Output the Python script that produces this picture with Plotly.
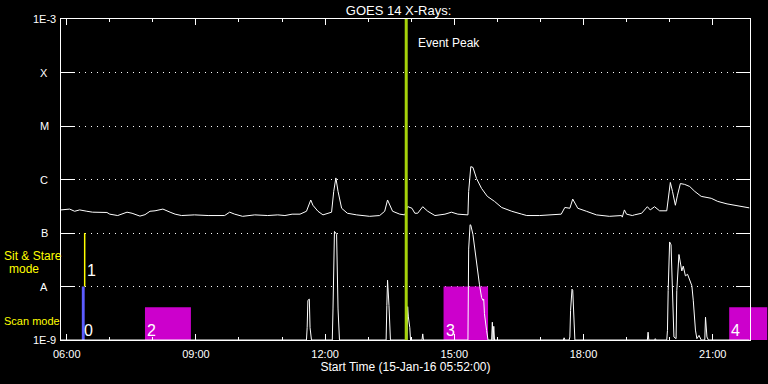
import math
from datetime import datetime
import plotly.graph_objects as go

DAY = '2016-01-15 '

# GOES long channel (upper curve)
long_time = ['05:52', '06:04', '06:11', '06:18', '06:28', '06:36', '06:56', '07:00', '07:11', '07:24',
             '07:31', '07:42', '07:49', '07:56', '08:03', '08:14', '08:24', '08:31', '08:40', '08:58',
             '09:17', '09:40', '09:47', '09:54', '10:05', '10:22', '10:40', '10:54', '11:04', '11:14',
             '11:25', '11:34', '11:40', '11:43', '11:50', '11:57', '12:09', '12:12', '12:15', '12:18',
             '12:23', '12:31', '12:44', '13:02', '13:16', '13:23', '13:27', '13:30', '13:34', '13:44',
             '13:51', '13:55', '14:01', '14:05', '14:09', '14:16', '14:23', '14:33', '14:47', '14:56',
             '15:05', '15:19', '15:20', '15:23', '15:26', '15:31', '15:38', '15:46', '15:56', '16:06',
             '16:20', '16:34', '16:41', '16:59', '17:17', '17:29', '17:34', '17:41', '17:45', '17:48',
             '17:52', '18:04', '18:18', '18:36', '18:53', '18:54', '18:57', '19:00', '19:08', '19:11',
             '19:21', '19:29', '19:33', '19:39', '19:46', '19:56', '19:57', '20:01', '20:04', '20:08',
             '20:11', '20:15', '20:21', '20:28', '20:35', '20:44', '20:58', '21:07', '21:20', '21:34',
             '21:48', '21:51']
long_flux = [2.7e-7, 2.8e-7, 2.55e-7, 2.7e-7, 2.55e-7, 2.45e-7, 2.42e-7, 2.25e-7, 2.12e-7, 2.45e-7,
             2.34e-7, 2.07e-7, 2.2e-7, 2.55e-7, 2.6e-7, 2.8e-7, 2.45e-7, 2.25e-7, 2.12e-7, 2.18e-7,
             2.12e-7, 2.12e-7, 2.45e-7, 2.25e-7, 2.05e-7, 2.18e-7, 2.12e-7, 2.18e-7, 2.12e-7, 2.25e-7,
             2.25e-7, 2.55e-7, 4.14e-7, 3.3e-7, 2.55e-7, 2.18e-7, 2.45e-7, 6.0e-7, 1.07e-6, 6.0e-7,
             2.9e-7, 2.34e-7, 2.18e-7, 2.05e-7, 2.12e-7, 2.55e-7, 4.14e-7, 3.3e-7, 2.55e-7, 2.25e-7,
             2.18e-7, 3.12e-7, 2.9e-7, 2.34e-7, 2.34e-7, 3.1e-7, 2.55e-7, 2.12e-7, 2.25e-7, 2.45e-7,
             2.25e-7, 2.18e-7, 6.0e-7, 1.74e-6, 1.68e-6, 1.04e-6, 6.8e-7, 4.84e-7, 3.9e-7, 3.0e-7,
             2.55e-7, 2.25e-7, 2.12e-7, 2.12e-7, 2.18e-7, 2.25e-7, 3.0e-7, 2.9e-7, 4.31e-7, 3.6e-7,
             2.9e-7, 2.55e-7, 2.18e-7, 2.05e-7, 2.12e-7, 1.98e-7, 2.7e-7, 2.25e-7, 2.12e-7, 2.18e-7,
             2.34e-7, 3.1e-7, 2.7e-7, 3.1e-7, 2.6e-7, 2.6e-7, 3.3e-7, 8.8e-7, 6.0e-7, 3.3e-7,
             5.1e-7, 8.4e-7, 8.1e-7, 7.4e-7, 6.0e-7, 4.84e-7, 4.45e-7, 3.9e-7, 3.5e-7, 3.25e-7,
             3.0e-7, 2.95e-7]

# GOES short channel (lower curve)
short_time = ['05:52', '11:34', '11:35', '11:36', '11:38', '11:39', '11:41', '12:10', '12:11', '12:13',
              '12:16', '12:18', '12:20', '13:25', '13:26', '13:27', '13:29', '13:31', '13:54', '13:55',
              '13:56', '13:58', '13:59', '14:15', '14:16', '14:17', '15:19', '15:20', '15:22', '15:23',
              '15:26', '15:31', '15:35', '15:38', '15:40', '15:41', '15:42', '15:45', '15:47', '15:52',
              '15:53', '15:54', '15:55', '15:56', '17:32', '17:33', '17:34', '17:40', '17:41', '17:42',
              '17:44', '17:45', '17:46', '17:48', '19:29', '19:30', '19:31', '19:39', '19:40', '19:41',
              '19:56', '19:57', '19:58', '20:00', '20:02', '20:04', '20:06', '20:09', '20:10', '20:13',
              '20:15', '20:17', '20:19', '20:22', '20:25', '20:28', '20:31', '20:33', '20:36', '20:38',
              '20:41', '20:44', '20:49', '20:50', '20:52', '20:54', '21:51']
short_flux = [1e-9, 1e-9, 1.7e-9, 5.5e-9, 5.8e-9, 1.7e-9, 1e-9, 1e-9, 3.8e-9, 1.07e-7,
              9.5e-8, 3.8e-9, 1e-9, 1e-9, 4.4e-9, 1.31e-8, 4.4e-9, 1e-9, 1e-9, 4.2e-9,
              2.7e-9, 1.7e-9, 1e-9, 1e-9, 1.3e-9, 1e-9, 1e-9, 5e-8, 1.43e-7, 1.4e-7,
              9.3e-8, 2.6e-8, 1.1e-8, 6.2e-9, 5.5e-9, 5.8e-9, 3.1e-9, 1.5e-9, 1e-9, 1e-9,
              2.15e-9, 1e-9, 1.8e-9, 1e-9, 1e-9, 1.1e-9, 1e-9, 1e-9, 1.14e-9, 3.55e-9,
              8.9e-9, 8.5e-9, 3.55e-9, 1e-9, 1e-9, 1.4e-9, 1e-9, 1e-9, 1.06e-9, 1e-9,
              1e-9, 1.5e-9, 8.4e-9, 6.8e-8, 6.0e-8, 8.4e-9, 1.14e-9, 1.06e-9, 8.4e-9, 3.96e-8,
              2.6e-8, 1.95e-8, 2.4e-8, 1.58e-8, 1.69e-8, 1.28e-8, 1.03e-8, 5.4e-9, 1.53e-9, 1.06e-9,
              1.22e-9, 1e-9, 1e-9, 2.67e-9, 1.14e-9, 1e-9, 1e-9]

# IRIS observations
obs_label = ['0', '1', '2', '3', '4']
obs_mode = ['scan', 'sit', 'scan', 'scan', 'scan']
obs_start = ['06:21', '06:25', '07:49', '14:45', '21:23']
obs_end = ['06:25', '06:25', '08:53', '15:47', '22:16']
obs_low = [1e-9, 1e-8, 1e-9, 1e-9, 1e-9]
obs_high = [1e-8, 1e-7, 4.1e-9, 1e-8, 4.1e-9]

event_peak = '13:53'
axis_start = '05:52'
axis_end = '21:52'

level_vals = [1e-9, 1e-8, 1e-7, 1e-6, 1e-5, 1e-4, 1e-3]
level_text = ['1E-9', 'A', 'B', 'C', 'M', 'X', '1E-3']
tick_times = ['06:00', '09:00', '12:00', '15:00', '18:00', '21:00']

FONT = 'Liberation Sans'
W, H = 768, 384


def ts(t):
    return DAY + t


def hours(t):
    d = datetime.strptime(t, '%H:%M')
    return d.hour + d.minute / 60.0


def paper_x(t):
    # position along the x axis as a fraction of the plotting area
    return (hours(t) - hours(axis_start)) / (hours(axis_end) - hours(axis_start))


fig = go.Figure()
fig.add_trace(go.Scatter(x=[ts(t) for t in long_time], y=long_flux, mode='lines',
                         line=dict(color='white', width=1), hoverinfo='skip', showlegend=False))
fig.add_trace(go.Scatter(x=[ts(t) for t in short_time], y=short_flux, mode='lines',
                         line=dict(color='white', width=1), hoverinfo='skip', showlegend=False))

shapes = []
annotations = []
for i, lab in enumerate(obs_label):
    if obs_mode[i] == 'sit':
        shapes.append(dict(type='line', xref='x', yref='y', x0=ts(obs_start[i]), x1=ts(obs_end[i]),
                           y0=obs_low[i], y1=obs_high[i], line=dict(color='#ffff00', width=1.5),
                           layer='between'))
        ly = math.log10(obs_low[i]) + 0.3
        xs = 0
    else:
        col = '#5c5cff' if i == 0 else '#cc00cc'
        shapes.append(dict(type='rect', xref='x', yref='y', x0=ts(obs_start[i]), x1=ts(obs_end[i]),
                           y0=obs_low[i], y1=obs_high[i], fillcolor=col, line=dict(width=0),
                           layer='between'))
        if hours(obs_end[i]) > hours(axis_end):
            # the observation bar runs on past the right edge of the frame
            shapes.append(dict(type='rect', xref='paper', yref='y', x0=1, x1=paper_x(obs_end[i]),
                               y0=obs_low[i], y1=obs_high[i], fillcolor=col, line=dict(width=0),
                               layer='between'))
        ly = math.log10(obs_low[i]) + 0.185
        xs = 0
    annotations.append(dict(x=ts(obs_start[i]), y=ly, xref='x', yref='y', text=lab, showarrow=False,
                            xanchor='left', yanchor='middle', xshift=xs,
                            font=dict(family=FONT, size=16, color='white')))

shapes.append(dict(type='line', xref='x', yref='paper', x0=ts(event_peak), x1=ts(event_peak), y0=0, y1=1,
                   line=dict(color='#a5d20a', width=3), layer='above'))
annotations.append(dict(x=ts(event_peak), y=1, xref='x', yref='paper', yshift=-24, xshift=10,
                        text='Event Peak', showarrow=False, xanchor='left', yanchor='middle',
                        font=dict(family=FONT, size=12, color='white')))

for v, t in zip(level_vals, level_text):
    annotations.append(dict(x=0, y=math.log10(v), xref='paper', yref='y', xshift=-17, text=t,
                            showarrow=False, xanchor='center', yanchor='middle',
                            font=dict(family=FONT, size=11, color='white')))

annotations.append(dict(x=0, y=-7.43, xref='paper', yref='y', xshift=-59, text='Sit & Stare',
                        showarrow=False, xanchor='left', yanchor='middle',
                        font=dict(family=FONT, size=12, color='#ffff00')))
annotations.append(dict(x=0, y=-7.68, xref='paper', yref='y', xshift=-37, text='mode',
                        showarrow=False, xanchor='center', yanchor='middle',
                        font=dict(family=FONT, size=12, color='#ffff00')))
annotations.append(dict(x=0, y=-8.648, xref='paper', yref='y', xshift=-59, text='Scan mode',
                        showarrow=False, xanchor='left', yanchor='middle',
                        font=dict(family=FONT, size=11, color='#ffff00')))

fig.update_layout(
    width=W, height=H,
    margin=dict(l=61, r=18, t=19, b=41),
    paper_bgcolor='black', plot_bgcolor='black',
    showlegend=False,
    title=dict(text='GOES 14 X-Rays:', x=0.49, xref='paper', xanchor='center',
               y=1 - 10 / H, yref='container', yanchor='middle',
               font=dict(family=FONT, size=13, color='white')),
    xaxis=dict(type='date', range=[ts(axis_start), ts(axis_end)],
               tickvals=[ts(t) for t in tick_times], ticktext=tick_times,
               ticks='inside', ticklen=6, tickwidth=1, tickcolor='white',
               minor=dict(tick0=ts('06:00'), dtick=3600000, ticks='inside', ticklen=3,
                          tickwidth=1, tickcolor='white', showgrid=False),
               showline=True, linecolor='white', linewidth=1, mirror='ticks',
               showgrid=False, zeroline=False, ticklabelstandoff=4,
               tickfont=dict(family=FONT, size=11, color='white'),
               title=dict(text='Start Time (15-Jan-16 05:52:00)', standoff=3,
                          font=dict(family=FONT, size=12, color='white'))),
    yaxis=dict(type='log', range=[-9, -3], tickvals=level_vals, showticklabels=False,
               ticks='inside', ticklen=14, tickwidth=1, tickcolor='white',
               showline=True, linecolor='white', linewidth=1, mirror='ticks',
               showgrid=True, gridcolor='white', gridwidth=1, griddash='1px,5px',
               zeroline=False),
    shapes=shapes,
    annotations=annotations,
)

fig.write_html('out.html', config={'displayModeBar': False},
               post_script="document.body.style.margin='0';document.body.style.background='black';")
